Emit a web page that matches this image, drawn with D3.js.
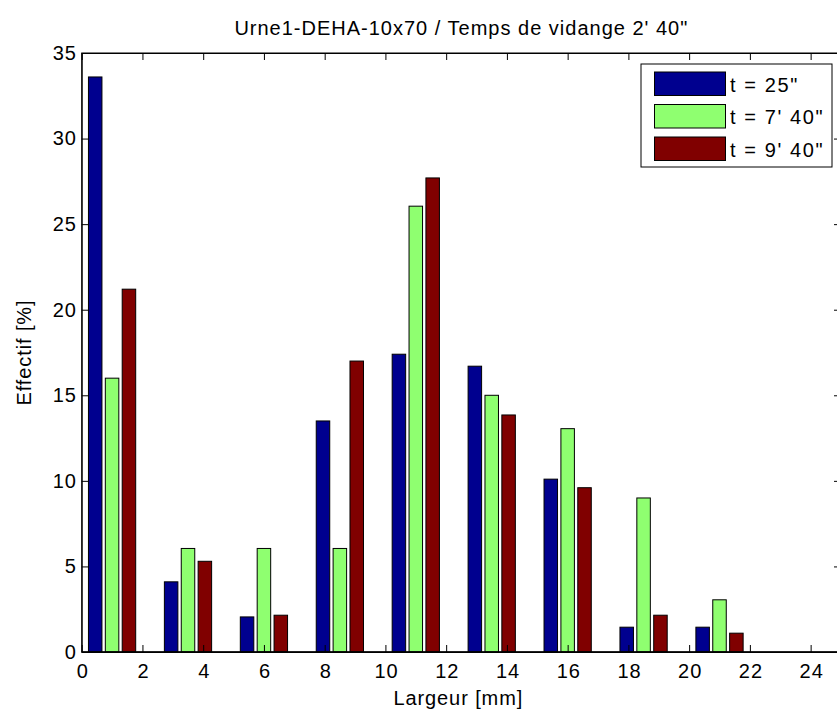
<!DOCTYPE html>
<html>
<head>
<meta charset="utf-8">
<script src="https://cdn.jsdelivr.net/npm/d3@7/dist/d3.min.js"></script>
<style>
html,body{margin:0;padding:0;background:#fff;overflow:hidden;}
svg{display:block;}
text{font-family:"Liberation Sans",Arial,sans-serif;fill:#000;}
</style>
</head>
<body>
<svg id="chart" width="837" height="712"></svg>
<script>
// ---- data ----
const binCenters = [1, 3.5, 6, 8.5, 11, 13.5, 16, 18.5, 21];
const seriesNames = ["t = 25\"", "t = 7' 40\"", "t = 9' 40\""];
const s25  = [33.6, 4.1, 2.05, 13.5, 17.4, 16.7, 10.1, 1.45, 1.45];
const s740 = [16.0, 6.05, 6.05, 6.05, 26.05, 15.0, 13.05, 9.0, 3.05];
const s940 = [21.2, 5.3, 2.15, 17.0, 27.7, 13.85, 9.6, 2.15, 1.1];
const xTicks = [0, 2, 4, 6, 8, 10, 12, 14, 16, 18, 20, 22, 24];
const yTicks = [0, 5, 10, 15, 20, 25, 30, 35];
const colors = ["#00008f", "#8fff70", "#800000"];
const titleText = "Urne1-DEHA-10x70 / Temps de vidange 2' 40\"";
const xLabel = "Largeur [mm]";
const yLabel = "Effectif [%]";

const series = [s25, s740, s940];

const svg = d3.select("#chart");
const L = 81.7, R = 841, T = 53, B = 652;
const x = d3.scaleLinear().domain([0, 25]).range([L, R]);
const y = d3.scaleLinear().domain([0, 35]).range([B, T]);

const binW = 2.5;
const spacing = binW * (2 / 3) / 3;
const barW = 0.8 * spacing;
const FS = 20, LS = "0.9px";

// bars
series.forEach((vals, si) => {
  const off = (si - 1) * spacing;
  svg.append("g").selectAll("rect").data(vals).join("rect")
    .attr("x", (d, i) => x(binCenters[i] + off - barW / 2))
    .attr("width", x(barW) - x(0))
    .attr("y", d => y(d))
    .attr("height", d => y(0) - y(d))
    .attr("fill", colors[si])
    .attr("stroke", "#000")
    .attr("stroke-width", 1);
});

// frame
const tl = 7;
svg.append("rect").attr("x", L).attr("y", T).attr("width", R - L).attr("height", B - T)
  .attr("fill", "none").attr("stroke", "#000").attr("stroke-width", 1);
svg.append("line").attr("x1", L).attr("x2", R).attr("y1", B).attr("y2", B)
  .attr("stroke", "#000").attr("stroke-width", 1.6);

const xAxB = svg.append("g").attr("transform", `translate(0,${B})`)
  .call(d3.axisBottom(x).tickValues(xTicks).tickSizeInner(-tl).tickSizeOuter(0).tickPadding(12));
const xAxT = svg.append("g").attr("transform", `translate(0,${T})`)
  .call(d3.axisTop(x).tickValues(xTicks).tickSizeInner(-tl).tickSizeOuter(0).tickFormat(""));
const yAxL = svg.append("g").attr("transform", `translate(${L},0)`)
  .call(d3.axisLeft(y).tickValues(yTicks).tickSizeInner(-tl).tickSizeOuter(0).tickPadding(5));
const yAxR = svg.append("g").attr("transform", `translate(${R},0)`)
  .call(d3.axisRight(y).tickValues(yTicks).tickSizeInner(-tl).tickSizeOuter(0).tickFormat(""));

[xAxB, xAxT, yAxL, yAxR].forEach(g => {
  g.select(".domain").attr("stroke", "#000");
  g.selectAll(".tick line").attr("stroke", "#000");
  g.selectAll("text").attr("font-family", "'Liberation Sans',Arial,sans-serif")
    .attr("font-size", FS).attr("fill", "#000").style("letter-spacing", LS);
});
xAxB.selectAll("text").attr("dx", 0.5);

// title & labels
svg.append("text").attr("x", (L + R) / 2).attr("y", 35)
  .attr("text-anchor", "middle").attr("font-size", FS).style("letter-spacing", "1px").text(titleText);
svg.append("text").attr("x", (L + R) / 2 - 3).attr("y", 705)
  .attr("text-anchor", "middle").attr("font-size", FS).style("letter-spacing", LS).text(xLabel);
svg.append("text").attr("transform", `translate(31,${(T + B) / 2}) rotate(-90)`)
  .attr("text-anchor", "middle").attr("font-size", FS).style("letter-spacing", LS).text(yLabel);

// legend
const lg = svg.append("g");
lg.append("rect").attr("x", 641).attr("y", 64).attr("width", 191).attr("height", 103)
  .attr("fill", "#fff").attr("stroke", "#000").attr("stroke-width", 1);
seriesNames.forEach((nm, i) => {
  const yy = 72 + i * 32.5;
  lg.append("rect").attr("x", 654.5).attr("y", yy).attr("width", 71).attr("height", 23.5)
    .attr("fill", colors[i]).attr("stroke", "#000").attr("stroke-width", 1);
  lg.append("text").attr("x", 730).attr("y", yy + 19.5).attr("font-size", 20)
    .style("letter-spacing", "1.6px").text(nm);
});
</script>
</body>
</html>
